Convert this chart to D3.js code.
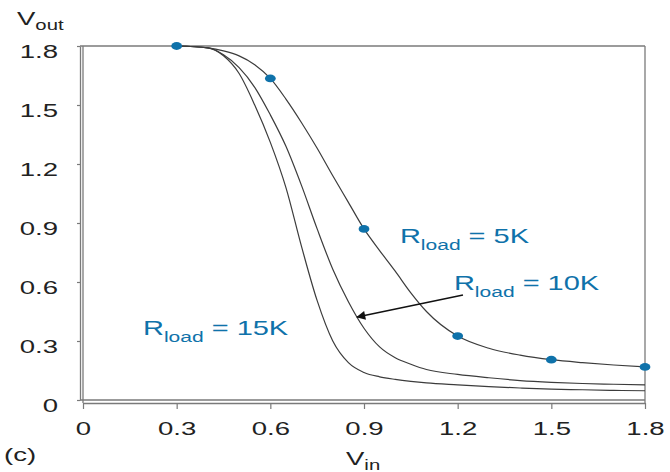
<!DOCTYPE html>
<html lang="en">
<head>
  <meta charset="UTF-8">
  <title>Vout vs Vin</title>
</head>
<style>
  body {
    margin: 0;
    background: #fff;
  }
  svg {
    display: block;
    font-family: Arial, "Liberation Sans", Helvetica, sans-serif;
  }
</style>
<body>
<svg width="670" height="472"></svg>
<script src="https://cdn.jsdelivr.net/npm/d3@7"></script>
<script>
  // data
  const vin = [0.3, 0.4, 0.45, 0.5, 0.55, 0.6, 0.65, 0.7, 0.75, 0.8, 0.85, 0.9, 0.95, 1.0, 1.05, 1.1, 1.2, 1.3, 1.4, 1.5, 1.6, 1.7, 1.8];
  const vout5K  = [1.80, 1.79, 1.775, 1.75, 1.705, 1.635, 1.53, 1.41, 1.28, 1.14, 1.005, 0.87, 0.76, 0.655, 0.545, 0.45, 0.325, 0.263, 0.228, 0.205, 0.19, 0.178, 0.168];
  const vout10K = [1.80, 1.79, 1.755, 1.69, 1.59, 1.45, 1.29, 1.09, 0.87, 0.665, 0.50, 0.365, 0.27, 0.215, 0.182, 0.155, 0.13, 0.113, 0.099, 0.09, 0.084, 0.08, 0.077];
  const vout15K = [1.80, 1.79, 1.75, 1.66, 1.50, 1.31, 1.08, 0.78, 0.505, 0.30, 0.19, 0.14, 0.118, 0.105, 0.095, 0.087, 0.077, 0.068, 0.061, 0.055, 0.052, 0.049, 0.047];

  const markerVin = [0.3, 0.6, 0.9, 1.2, 1.5, 1.8];
  const markerVout = [1.80, 1.635, 0.87, 0.325, 0.205, 0.168];

  const xTicks = [0, 0.3, 0.6, 0.9, 1.2, 1.5, 1.8];
  const yTicks = [0, 0.3, 0.6, 0.9, 1.2, 1.5, 1.8];

  const labels = [
    {text: '5K', x: 1.015, y: 0.798},
    {text: '10K', x: 1.188, y: 0.559},
    {text: '15K', x: 0.192, y: 0.330}
  ];
  const arrowFrom = [1.217, 0.534];
  const arrowTo = [0.878, 0.422];

  const blue = '#0f72aa';
  const sx = 1.45; // the picture is stretched sideways

  const svg = d3.select('svg');

  const x = d3.scaleLinear().domain([0, 1.8]).range([83, 645]);
  const y = d3.scaleLinear().domain([0, 1.8]).range([400, 46]);

  const fmt = d => d === 0 ? '0' : d.toFixed(1);

  // box
  const box = svg.append('g').attr('stroke', '#7a7a7a').attr('stroke-width', 1.3).attr('fill', 'none');
  box.append('line').attr('x1', 80).attr('x2', x(1.8)).attr('y1', y(1.8)).attr('y2', y(1.8));
  box.append('line').attr('x1', x(1.8)).attr('x2', x(1.8)).attr('y1', y(1.8)).attr('y2', 403);
  box.append('line').attr('x1', x(0)).attr('x2', x(0)).attr('y1', y(1.8)).attr('y2', 403);
  box.append('line').attr('x1', 80).attr('x2', x(1.8)).attr('y1', y(0)).attr('y2', y(0));

  // y axis
  const yAxis = svg.append('g')
    .attr('transform', 'translate(80,0)')
    .call(d3.axisLeft(y).tickValues(yTicks).tickFormat(fmt).tickSize(3).tickSizeOuter(0).tickPadding(19));

  // x axis
  const xAxis = svg.append('g')
    .attr('transform', 'translate(0,403)')
    .call(d3.axisBottom(x).tickValues(xTicks).tickFormat(fmt).tickSize(6).tickSizeOuter(0).tickPadding(12));

  [yAxis, xAxis].forEach(g => {
    g.select('.domain').attr('stroke', '#7a7a7a').attr('stroke-width', 1.3);
    g.selectAll('.tick line').attr('stroke', '#7a7a7a').attr('stroke-width', 1.2);
    g.selectAll('.tick text')
      .attr('fill', '#222')
      .attr('font-size', 19)
      .attr('font-family', 'Arial, "Liberation Sans", sans-serif')
      .attr('transform', `scale(${sx},1)`);
  });
  yAxis.selectAll('.tick text').attr('x', -22 / sx).attr('dy', '0.63em');
  xAxis.selectAll('.tick text').attr('y', 32).attr('dy', 0);

  // curves
  const line = d3.line()
    .x(d => x(d[0]))
    .y(d => y(d[1]))
    .curve(d3.curveMonotoneX);

  [vout5K, vout10K, vout15K].forEach(series => {
    svg.append('path')
      .datum(vin.map((v, i) => [v, series[i]]))
      .attr('d', line)
      .attr('fill', 'none')
      .attr('stroke', '#3c3c3c')
      .attr('stroke-width', 1.2);
  });

  // markers on 5K curve
  svg.selectAll('ellipse')
    .data(markerVin.map((v, i) => [v, markerVout[i]]))
    .enter().append('ellipse')
    .attr('cx', d => x(d[0]))
    .attr('cy', d => y(d[1]))
    .attr('rx', 5.4)
    .attr('ry', 3.9)
    .attr('fill', blue);

  // arrow
  svg.append('defs').append('marker')
    .attr('id', 'head')
    .attr('viewBox', '0 0 10 10')
    .attr('refX', 9).attr('refY', 5)
    .attr('markerWidth', 15).attr('markerHeight', 9)
    .attr('markerUnits', 'userSpaceOnUse')
    .attr('orient', 'auto')
    .append('path').attr('d', 'M0,0L10,5L0,10Z').attr('fill', '#111');

  svg.append('line')
    .attr('x1', x(arrowFrom[0])).attr('y1', y(arrowFrom[1]))
    .attr('x2', x(arrowTo[0])).attr('y2', y(arrowTo[1]))
    .attr('stroke', '#111')
    .attr('stroke-width', 1.4)
    .attr('marker-end', 'url(#head)');

  // R_load labels
  labels.forEach(l => {
    const t = svg.append('text')
      .attr('transform', `translate(${x(l.x)},${y(l.y)}) scale(${sx},1)`)
      .attr('fill', blue)
      .attr('font-size', 20);
    t.append('tspan').text('R');
    t.append('tspan').attr('font-size', 14.5).attr('dy', 7).text('load');
    t.append('tspan').attr('dy', -7).text(' = ' + l.text);
  });

  // axis titles
  const vt = svg.append('text')
    .attr('transform', `translate(17,25) scale(${sx},1)`)
    .attr('fill', '#222').attr('font-size', 19);
  vt.append('tspan').text('V');
  vt.append('tspan').attr('font-size', 14).attr('dy', 5).text('out');

  const ht = svg.append('text')
    .attr('transform', `translate(346,465) scale(${sx},1)`)
    .attr('fill', '#222').attr('font-size', 19);
  ht.append('tspan').text('V');
  ht.append('tspan').attr('font-size', 14).attr('dy', 5).text('in');

  svg.append('text')
    .attr('transform', `translate(4,461) scale(${sx},1)`)
    .attr('fill', '#222').attr('font-size', 19)
    .text('(c)');
</script>
</body>
</html>
